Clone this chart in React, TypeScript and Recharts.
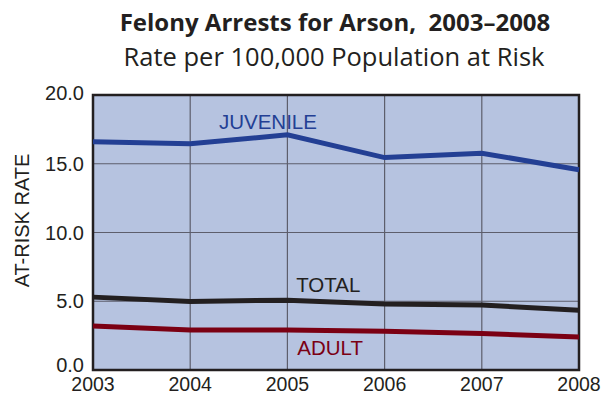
import { LineChart, Line, XAxis, YAxis, CartesianGrid, ReferenceArea, ReferenceDot } from "recharts";

const years = [2003, 2004, 2005, 2006, 2007, 2008];
const juvenile = [16.6, 16.45, 17.1, 15.45, 15.77, 14.56];
const total = [5.3, 4.99, 5.08, 4.8, 4.72, 4.34];
const adult = [3.2, 2.91, 2.91, 2.81, 2.65, 2.4];
const yTicks = [0, 5, 10, 15, 20];

const data = years.map((year, i) => ({
  year,
  juvenile: juvenile[i],
  total: total[i],
  adult: adult[i],
}));

const ink = "#231f20";
const font = "'Liberation Sans', Arial, sans-serif";

function SeriesLabel({ viewBox, text, color }: any) {
  if (!viewBox) return null;
  const cx = viewBox.cx ?? viewBox.x + (viewBox.width || 0) / 2;
  const cy = viewBox.cy ?? viewBox.y + (viewBox.height || 0) / 2;
  return (
    <text x={cx} y={cy} textAnchor="middle" dominantBaseline="central" fill={color} fontSize={20.5} fontFamily={font}>
      {text}
    </text>
  );
}

// bottom tick sits a little higher in the original, clear of the year labels
function YTick({ x, y, payload }: any) {
  const shift = payload.value === 0 ? -5 : payload.value === 20 ? -2 : 0;
  return (
    <text x={x} y={y + shift} textAnchor="end" dominantBaseline="central" fill={ink} fontSize={20} fontFamily={font}>
      {Number(payload.value).toFixed(1)}
    </text>
  );
}

function AxisTitle({ viewBox }: any) {
  if (!viewBox) return null;
  const cy = viewBox.y + viewBox.height / 2 - 12;
  return (
    <text x={22} y={cy} transform={`rotate(-90, 22, ${cy})`} textAnchor="middle" dominantBaseline="central" fill={ink} fontSize={20} fontFamily={font}>
      AT-RISK RATE
    </text>
  );
}

export default function App() {
  return (
    <div style={{ position: "absolute", left: 0, top: 0, width: 603, height: 395, background: "#fff" }}>
      <div style={{ position: "absolute", left: 0, top: 5, width: 670, textAlign: "center", fontFamily: "'Open Sans', sans-serif", fontWeight: 700, fontSize: 24, color: ink }}>
        Felony Arrests for Arson,&nbsp; 2003–2008
      </div>
      <div style={{ position: "absolute", left: 0, top: 39, width: 668, textAlign: "center", fontFamily: "'Open Sans', sans-serif", fontSize: 25.5, color: ink }}>
        Rate per 100,000 Population at Risk
      </div>
      <div style={{ position: "absolute", left: 0, top: 0 }}>
        <LineChart width={603} height={395} data={data} margin={{ top: 95, right: 24, bottom: 0, left: 0 }}>
          <CartesianGrid fill="#b6c3e0" stroke="#5d5e6c" strokeWidth={1.2} fillOpacity={1} />
          <XAxis
            dataKey="year"
            type="number"
            domain={[2003, 2008]}
            ticks={years}
            axisLine={false}
            tickLine={false}
            height={25}
            tickMargin={1}
            tick={{ fill: ink, fontSize: 19.5, fontFamily: font }}
          />
          <YAxis
            domain={[0, 20]}
            ticks={yTicks}
            width={93}
            axisLine={false}
            tickLine={false}
            tickMargin={3}
            tick={<YTick />}
            label={<AxisTitle />}
          />
          <ReferenceArea x1={2003} x2={2008} y1={0} y2={20} fill="none" stroke={ink} strokeWidth={2.5} ifOverflow="visible" />
          <Line dataKey="juvenile" stroke="#233f94" strokeWidth={5} dot={false} isAnimationActive={false} />
          <Line dataKey="total" stroke={ink} strokeWidth={5} dot={false} isAnimationActive={false} />
          <Line dataKey="adult" stroke="#7b0013" strokeWidth={5} dot={false} isAnimationActive={false} />
          <ReferenceDot x={2004.8} y={18.05} r={0} label={<SeriesLabel text="JUVENILE" color="#233f94" />} />
          <ReferenceDot x={2005.42} y={6.22} r={0} label={<SeriesLabel text="TOTAL" color={ink} />} />
          <ReferenceDot x={2005.44} y={1.65} r={0} label={<SeriesLabel text="ADULT" color="#7b0013" />} />
        </LineChart>
      </div>
    </div>
  );
}
